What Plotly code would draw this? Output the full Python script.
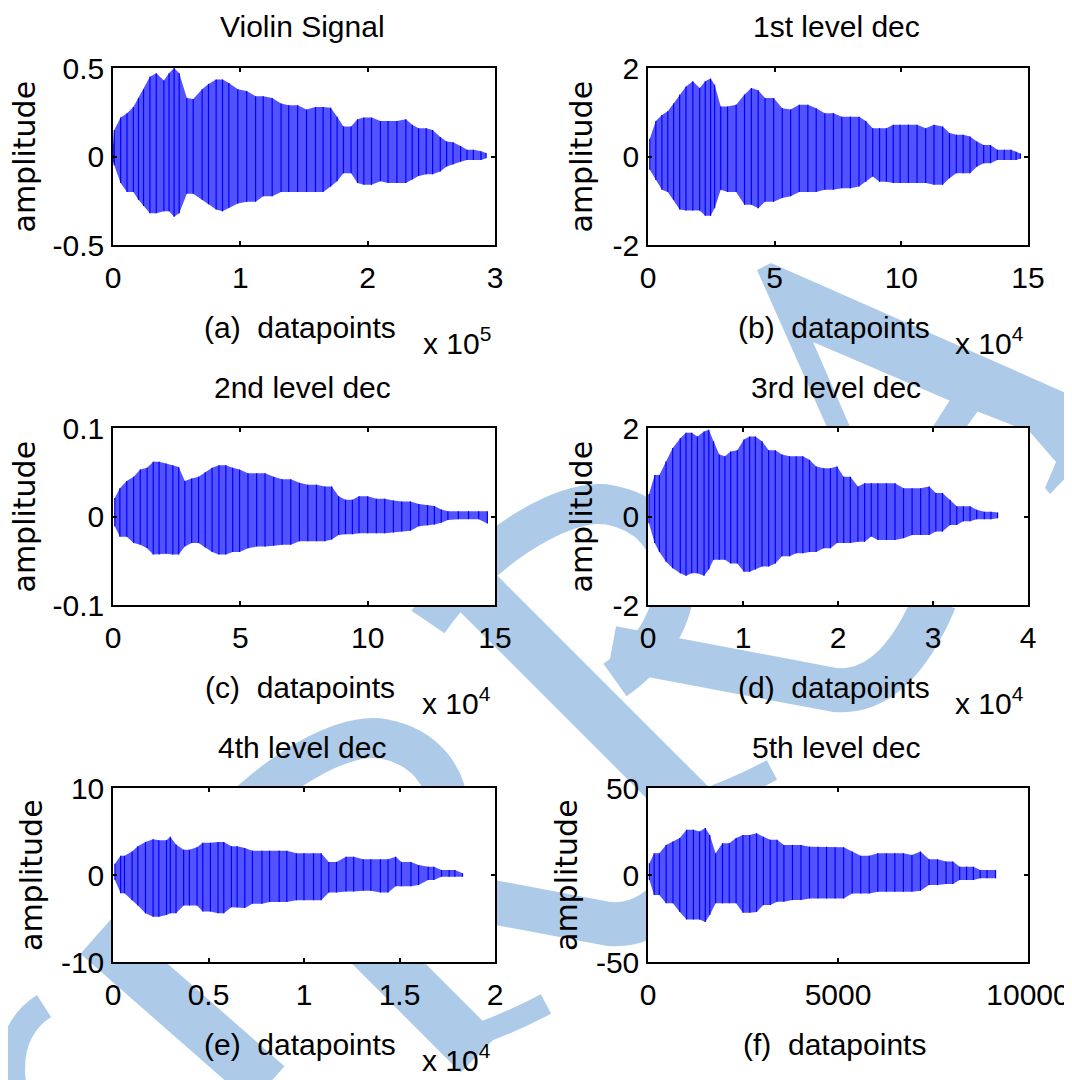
import plotly.graph_objects as go

# target picture size and page offset (the page body adds an 8 px margin)
IMG_W, IMG_H = 1072, 1080
OFF = 8
W, H = IMG_W - OFF, IMG_H - OFF

# ---------------- data: envelope readings (upper / lower) of each signal ----------------
A_X = [0.00, 0.01, 0.06, 0.11, 0.16, 0.20, 0.24, 0.29, 0.34, 0.40, 0.44, 0.48, 0.52, 0.58, 0.63, 0.70, 0.75,
       0.81, 0.86, 0.91, 0.98, 1.05, 1.12, 1.18, 1.25, 1.32, 1.38, 1.45, 1.52, 1.59, 1.65, 1.71, 1.76, 1.81,
       1.87, 1.92, 1.97, 2.03, 2.10, 2.16, 2.23, 2.30, 2.35, 2.40, 2.46, 2.51, 2.57, 2.62, 2.67, 2.73, 2.78,
       2.83, 2.89, 2.93]
A_UP = [0.07, 0.15, 0.22, 0.245, 0.28, 0.33, 0.38, 0.45, 0.47, 0.43, 0.47, 0.50, 0.47, 0.33, 0.325, 0.38, 0.41,
        0.435, 0.435, 0.415, 0.38, 0.37, 0.34, 0.34, 0.33, 0.30, 0.29, 0.29, 0.265, 0.28, 0.28, 0.275, 0.225,
        0.17, 0.17, 0.21, 0.22, 0.22, 0.20, 0.20, 0.20, 0.21, 0.18, 0.16, 0.16, 0.15, 0.11, 0.085, 0.08, 0.06,
        0.038, 0.038, 0.03, 0.02]
A_LO = [-0.03, -0.05, -0.15, -0.2, -0.2, -0.245, -0.28, -0.32, -0.32, -0.31, -0.31, -0.34, -0.32, -0.21, -0.21,
        -0.245, -0.27, -0.30, -0.31, -0.29, -0.265, -0.255, -0.255, -0.225, -0.225, -0.2, -0.2, -0.2, -0.2,
        -0.2, -0.2, -0.17, -0.14, -0.095, -0.095, -0.15, -0.16, -0.16, -0.14, -0.15, -0.15, -0.15, -0.13,
        -0.11, -0.10, -0.10, -0.085, -0.057, -0.045, -0.03, -0.02, -0.02, -0.02, -0.01]

B_X = [0.07, 0.31, 0.55, 0.78, 1.01, 1.25, 1.50, 1.77, 2.04, 2.26, 2.47, 2.63, 2.87, 3.14, 3.48, 3.81, 4.08,
       4.35, 4.62, 4.96, 5.30, 5.63, 5.97, 6.31, 6.64, 6.98, 7.32, 7.65, 7.99, 8.33, 8.60, 8.87, 9.14, 9.41,
       9.68, 9.95, 10.28, 10.62, 10.96, 11.29, 11.63, 11.90, 12.17, 12.44, 12.71, 12.98, 13.25, 13.52, 13.79,
       14.06, 14.33, 14.53, 14.70]
B_UP = [0.4, 0.8, 0.94, 1.02, 1.2, 1.4, 1.58, 1.7, 1.55, 1.7, 1.76, 1.62, 1.13, 1.13, 1.17, 1.4, 1.55, 1.5,
        1.32, 1.32, 1.09, 1.06, 1.17, 1.17, 1.09, 0.98, 0.98, 0.9, 0.9, 0.9, 0.8, 0.64, 0.64, 0.64, 0.72, 0.72,
        0.72, 0.72, 0.64, 0.72, 0.68, 0.53, 0.49, 0.49, 0.45, 0.34, 0.26, 0.26, 0.15, 0.15, 0.15, 0.11, 0.07]
B_LO = [-0.3, -0.53, -0.75, -0.8, -0.98, -1.2, -1.22, -1.22, -1.22, -1.34, -1.34, -1.17, -0.75, -0.8, -0.8,
        -1.09, -1.09, -1.17, -1.02, -1.02, -0.94, -0.9, -0.8, -0.8, -0.8, -0.75, -0.75, -0.72, -0.72, -0.68,
        -0.57, -0.45, -0.57, -0.57, -0.6, -0.6, -0.6, -0.6, -0.6, -0.64, -0.64, -0.49, -0.38, -0.38, -0.38,
        -0.23, -0.15, -0.15, -0.08, -0.08, -0.08, -0.08, -0.05]

C_X = [0.07, 0.27, 0.54, 0.81, 1.07, 1.34, 1.58, 1.81, 2.08, 2.35, 2.58, 2.82, 3.09, 3.36, 3.62, 3.89, 4.16,
       4.43, 4.70, 4.97, 5.30, 5.64, 5.97, 6.31, 6.64, 6.98, 7.32, 7.65, 7.99, 8.32, 8.59, 8.86, 9.13, 9.40,
       9.66, 10.00, 10.34, 10.67, 11.01, 11.34, 11.68, 12.01, 12.35, 12.62, 12.89, 13.15, 13.56, 13.96, 14.36,
       14.70]
C_UP = [0.021, 0.032, 0.040, 0.045, 0.053, 0.055, 0.062, 0.062, 0.060, 0.058, 0.056, 0.040, 0.043, 0.045,
        0.050, 0.055, 0.058, 0.058, 0.055, 0.053, 0.049, 0.049, 0.049, 0.045, 0.042, 0.042, 0.038, 0.036,
        0.036, 0.034, 0.034, 0.023, 0.019, 0.019, 0.023, 0.023, 0.020, 0.020, 0.018, 0.017, 0.017, 0.014,
        0.013, 0.012, 0.008, 0.006, 0.006, 0.006, 0.006, 0.006]
C_LO = [-0.011, -0.023, -0.023, -0.030, -0.032, -0.036, -0.043, -0.043, -0.042, -0.043, -0.043, -0.034,
        -0.030, -0.030, -0.035, -0.040, -0.043, -0.043, -0.040, -0.040, -0.036, -0.034, -0.034, -0.033,
        -0.032, -0.032, -0.028, -0.028, -0.028, -0.028, -0.026, -0.021, -0.020, -0.020, -0.019, -0.019,
        -0.019, -0.019, -0.018, -0.017, -0.016, -0.011, -0.010, -0.009, -0.007, -0.004, -0.003, -0.003,
        -0.003, -0.008]

D_X = [0.01, 0.07, 0.12, 0.19, 0.26, 0.34, 0.40, 0.46, 0.52, 0.59, 0.64, 0.69, 0.75, 0.81, 0.87, 0.94, 1.01,
       1.07, 1.13, 1.20, 1.27, 1.34, 1.41, 1.49, 1.56, 1.63, 1.70, 1.77, 1.85, 1.92, 1.99, 2.06, 2.13, 2.21,
       2.28, 2.35, 2.42, 2.51, 2.60, 2.69, 2.78, 2.87, 2.96, 3.03, 3.10, 3.18, 3.25, 3.32, 3.39, 3.46, 3.54,
       3.61, 3.68]
D_UP = [0.5, 0.94, 0.94, 1.25, 1.55, 1.77, 1.89, 1.89, 1.81, 1.92, 1.96, 1.7, 1.4, 1.36, 1.47, 1.5, 1.74, 1.81,
        1.81, 1.7, 1.5, 1.5, 1.4, 1.36, 1.36, 1.36, 1.28, 1.13, 1.09, 1.09, 1.13, 0.9, 0.9, 0.68, 0.75, 0.75,
        0.75, 0.75, 0.75, 0.64, 0.64, 0.64, 0.68, 0.53, 0.53, 0.38, 0.23, 0.23, 0.23, 0.15, 0.11, 0.11, 0.09]
D_LO = [-0.15, -0.6, -0.8, -1.02, -1.17, -1.28, -1.34, -1.28, -1.28, -1.34, -1.2, -0.98, -0.98, -0.98, -1.06,
        -1.06, -1.25, -1.25, -1.2, -1.13, -1.13, -1.06, -0.9, -0.9, -0.83, -0.83, -0.8, -0.8, -0.72, -0.72,
        -0.6, -0.6, -0.6, -0.57, -0.57, -0.45, -0.53, -0.53, -0.53, -0.49, -0.42, -0.42, -0.42, -0.34, -0.34,
        -0.19, -0.19, -0.11, -0.11, -0.06, -0.06, -0.06, -0.04]

E_X = [0.01, 0.04, 0.06, 0.10, 0.13, 0.17, 0.21, 0.24, 0.28, 0.30, 0.33, 0.37, 0.40, 0.44, 0.47, 0.51, 0.55,
       0.58, 0.62, 0.65, 0.69, 0.73, 0.78, 0.82, 0.87, 0.91, 0.96, 1.00, 1.05, 1.09, 1.13, 1.17, 1.22, 1.26,
       1.31, 1.35, 1.40, 1.44, 1.48, 1.51, 1.56, 1.60, 1.65, 1.68, 1.72, 1.76, 1.79, 1.83]
E_UP = [1.3, 2.2, 2.2, 2.7, 3.3, 3.8, 4.1, 4.0, 4.0, 4.4, 3.5, 2.9, 2.9, 3.2, 3.7, 3.7, 3.8, 3.8, 3.3, 3.3, 3.1,
        2.8, 2.8, 2.8, 2.8, 2.8, 2.5, 2.5, 2.5, 2.5, 1.5, 1.5, 2.1, 2.1, 1.8, 1.8, 1.8, 1.8, 2.1, 1.5, 1.5,
        1.15, 0.96, 0.96, 0.58, 0.58, 0.58, 0.2]
E_LO = [-0.58, -2.1, -2.1, -2.9, -3.5, -4.4, -4.8, -4.8, -4.6, -4.4, -4.4, -3.5, -3.5, -3.5, -4.2, -4.2, -4.4,
        -4.4, -3.7, -3.7, -3.8, -3.3, -3.3, -3.1, -3.1, -3.1, -2.9, -2.9, -2.9, -2.9, -2.0, -2.0, -1.9, -1.9,
        -1.8, -1.8, -2.0, -2.0, -1.3, -1.3, -1.3, -1.15, -0.58, -0.58, -0.2, -0.2, -0.2, -0.2]

F_X = [36, 162, 297, 476, 656, 836, 1015, 1195, 1357, 1509, 1626, 1779, 1959, 2138, 2318, 2498, 2677, 2857,
       3037, 3217, 3396, 3576, 3801, 4025, 4250, 4475, 4699, 4924, 5148, 5373, 5598, 5822, 6047, 6272, 6496,
       6721, 6946, 7170, 7395, 7619, 7844, 8024, 8203, 8383, 8563, 8742, 8922, 9146]
F_UP = [6.7, 12.5, 12.5, 17.3, 19.2, 21.2, 26, 26, 25, 27, 23, 12.5, 18.3, 18.3, 21.2, 23, 23, 24, 22, 20.2,
        20.2, 17.3, 17.3, 17.3, 16.3, 16.3, 16.3, 16, 16, 13.5, 11, 11, 12.5, 12.5, 12.5, 12.5, 11.5, 13.5, 9,
        9, 7.7, 7.7, 4.8, 4.8, 4.8, 2.9, 2.9, 2.9]
F_LO = [-2.9, -11.5, -11.5, -16.3, -16.3, -21.2, -25.6, -25.6, -25.6, -27, -23, -16.3, -16.3, -16.3, -16.3,
        -21.7, -21.7, -21.2, -17.3, -17.3, -15.4, -15.4, -14.4, -14.4, -13.5, -13.5, -13.5, -13.5, -13.5,
        -10.6, -10.6, -10.6, -9.6, -9.6, -9.6, -9.6, -9.6, -9, -5.8, -5.8, -5.2, -5.2, -2.9, -2.9, -2.9, -1.9,
        -1.9, -1.9]

TITLES = ["Violin Signal", "1st level dec", "2nd level dec", "3rd level dec", "4th level dec", "5th level dec"]
XLABELS = ["(a)  datapoints", "(b)  datapoints", "(c)  datapoints", "(d)  datapoints", "(e)  datapoints",
           "(f)  datapoints"]
EXPONENTS = ["5", "4", "4", "4", "4", None]
X_TICKS = [[0, 1, 2, 3], [0, 5, 10, 15], [0, 5, 10, 15], [0, 1, 2, 3, 4], [0, 0.5, 1, 1.5, 2], [0, 5000, 10000]]
X_TICKTEXT = [["0", "1", "2", "3"], ["0", "5", "10", "15"], ["0", "5", "10", "15"], ["0", "1", "2", "3", "4"],
              ["0", "0.5", "1", "1.5", "2"], ["0", "5000", "10000"]]
Y_TICKS = [[-0.5, 0, 0.5], [-2, 0, 2], [-0.1, 0, 0.1], [-2, 0, 2], [-10, 0, 10], [-50, 0, 50]]
Y_TICKTEXT = [["-0.5", "0", "0.5"], ["-2", "0", "2"], ["-0.1", "0", "0.1"], ["-2", "0", "2"],
              ["-10", "0", "10"], ["-50", "0", "50"]]

SERIES = [(A_X, A_UP, A_LO), (B_X, B_UP, B_LO), (C_X, C_UP, C_LO),
          (D_X, D_UP, D_LO), (E_X, E_UP, E_LO), (F_X, F_UP, F_LO)]

# ---------------- layout geometry (picture pixels) ----------------
BOXES = [(113, 495, 68, 245), (648, 1028, 68, 245),
         (113, 495, 428, 605), (648, 1028, 428, 605),
         (113, 495, 788, 962), (648, 1028, 788, 962)]
YLAB_X = [24, 581, 24, 581, 31, 566]

FONT = "Liberation Sans, Arial, Helvetica, sans-serif"
WIDE = "DejaVu Sans, Verdana, sans-serif"
FS = 30
BLUE = "#0000ff"
WM = "#adcbe9"


def px_x(x):
    return (x - OFF) / W


def px_y(y):
    return 1 - (y - OFF) / H


fig = go.Figure()
layout = dict(width=W, height=H, margin=dict(l=0, r=0, t=0, b=0, autoexpand=False), showlegend=False,
              paper_bgcolor="white", plot_bgcolor="white")
annotations = []
shapes = []

# ---------------- watermark (light blue letters behind the axes) ----------------


def P(x, y):
    return f"{px_x(x):.5f},{px_y(y):.5f}"


def stroke(path, width):
    return dict(type="path", xref="paper", yref="paper", path=path, layer="below",
                line=dict(color=WM, width=width), fillcolor="rgba(0,0,0,0)")


def poly(points):
    path = "M " + " L ".join(P(x, y) for x, y in points) + " Z"
    return dict(type="path", xref="paper", yref="paper", path=path, layer="below",
                line=dict(width=0), fillcolor=WM)


def letter_r(dx, dy):
    s = []
    s.append(stroke(f"M {P(470+dx, 585+dy)} L {P(705+dx, 820+dy)}", 52))
    s.append(stroke(f"M {P(428+dx, 622+dy)} C {P(470+dx, 560+dy)} {P(560+dx, 495+dy)} {P(610+dx, 505+dy)} "
                    f"C {P(690+dx, 520+dy)} {P(700+dx, 620+dy)} {P(615+dx, 680+dy)}", 40))
    s.append(stroke(f"M {P(612+dx, 648+dy)} L {P(835+dx, 690+dy)} Q {P(895+dx, 695+dy)} {P(935+dx, 600+dy)}", 44))
    s.append(stroke(f"M {P(690+dx, 805+dy)} Q {P(730+dx, 792+dy)} {P(772+dx, 770+dy)}", 22))
    return s


shapes += letter_r(0, 0)
shapes += letter_r(-226, 234)
shapes.append(stroke(f"M {P(97, 935)} L {P(268, 1085)}", 50))
shapes.append(stroke(f"M {P(44, 1006)} Q {P(4, 1032)} {P(14, 1090)}", 26))
shapes.append(poly([(757, 270), (771, 263), (1075, 397), (1075, 468), (1050, 494), (1045, 488), (1056, 462),
                    (1030, 432), (953, 402), (813, 342), (861, 452), (838, 452)]))
shapes.append(poly([(950, 400), (978, 411), (935, 470), (905, 470)]))

# ---------------- panels ----------------
for i in range(6):
    n = i + 1
    xs, up, lo = SERIES[i]
    x0, x1, y0, y1 = BOXES[i]
    xa = "x" if n == 1 else f"x{n}"
    ya = "y" if n == 1 else f"y{n}"

    # band between the envelopes
    fig.add_trace(go.Scatter(x=list(xs) + list(xs)[::-1], y=list(up) + list(lo)[::-1],
                             fill="toself", fillcolor="rgba(0,0,255,0.68)", line=dict(width=0),
                             mode="lines", xaxis=xa, yaxis=ya, hoverinfo="skip"))
    # vertical oscillation strokes at each reading
    zx, zy = [], []
    for xv, u, l in zip(xs, up, lo):
        zx += [xv, xv, None]
        zy += [u, l, None]
    fig.add_trace(go.Scatter(x=zx, y=zy, mode="lines", line=dict(color=BLUE, width=1.2),
                             xaxis=xa, yaxis=ya, connectgaps=False))

    xr = [X_TICKS[i][0], X_TICKS[i][-1]]
    yr = [Y_TICKS[i][0], Y_TICKS[i][-1]]
    common = dict(ticks="inside", ticklen=4, tickwidth=1.5, tickcolor="black", showline=True,
                  linecolor="black", linewidth=1.5, mirror="ticks", showgrid=False, zeroline=False,
                  automargin=False, tickfont=dict(family=FONT, size=FS, color="black"))
    layout["xaxis" if n == 1 else f"xaxis{n}"] = dict(
        domain=[px_x(x0), px_x(x1)], range=xr, tickvals=X_TICKS[i], ticktext=X_TICKTEXT[i],
        anchor=ya, ticklabelstandoff=5, **common)
    layout["yaxis" if n == 1 else f"yaxis{n}"] = dict(
        domain=[px_y(y1), px_y(y0)], range=yr, tickvals=Y_TICKS[i], ticktext=Y_TICKTEXT[i],
        anchor=xa, ticklabelstandoff=1, **common)

    # white plot area covering the watermark
    shapes.append(dict(type="rect", xref=f"{xa} domain", yref=f"{ya} domain", x0=0, x1=1, y0=0, y1=1,
                       fillcolor="white", line=dict(width=0), layer="below"))

    cx = (x0 + x1) / 2
    annotations.append(dict(text=TITLES[i], x=px_x(cx - 2), y=px_y(y0 - 29.5 + 7), xref="paper", yref="paper",
                            xanchor="center", yanchor="bottom", showarrow=False,
                            font=dict(family=FONT, size=FS, color="black")))
    annotations.append(dict(text=XLABELS[i], x=px_x(cx - 4), y=px_y(y1 + 94 + 7), xref="paper", yref="paper",
                            xanchor="center", yanchor="bottom", showarrow=False,
                            font=dict(family=FONT, size=FS, color="black")))
    annotations.append(dict(text="amplitude", x=px_x(YLAB_X[i]), y=px_y((y0 + y1) / 2), xref="paper",
                            yref="paper", xanchor="center", yanchor="middle", textangle=-90,
                            showarrow=False, font=dict(family=WIDE, size=30, color="black")))
    if EXPONENTS[i]:
        annotations.append(dict(text=f"x 10<sup>{EXPONENTS[i]}</sup>", x=px_x(x1 - 2),
                                y=px_y(min(y1 + 110 + 7, IMG_H - 1)),
                                xref="paper", yref="paper", xanchor="right", yanchor="bottom",
                                showarrow=False, font=dict(family=FONT, size=FS, color="black")))

layout["annotations"] = annotations
layout["shapes"] = shapes
fig.update_layout(**layout)
fig.write_html("out.html")
